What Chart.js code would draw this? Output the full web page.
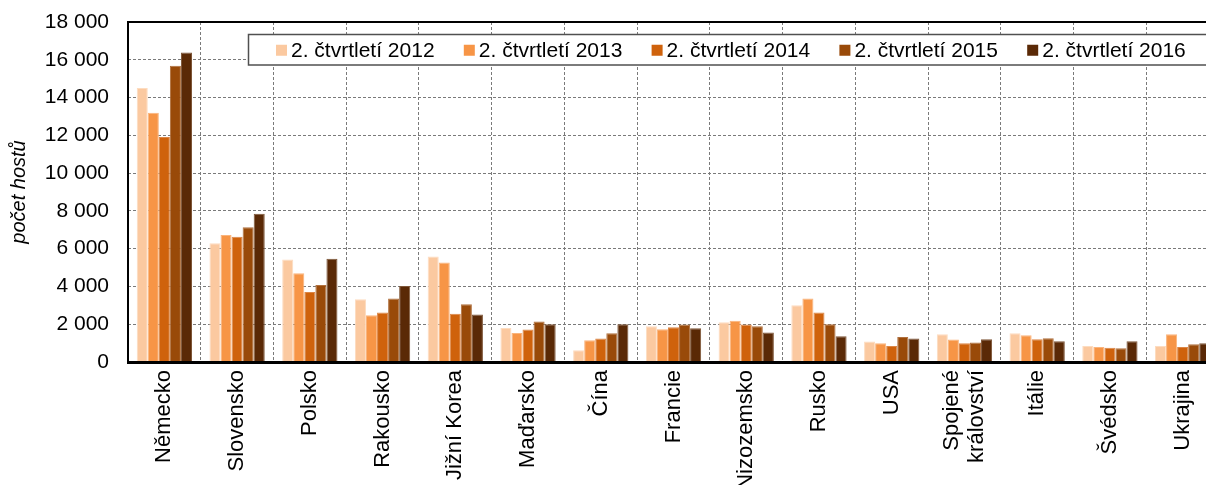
<!DOCTYPE html>
<html><head><meta charset="utf-8">
<script src="https://cdn.jsdelivr.net/npm/chart.js@4/dist/chart.umd.min.js"></script>
<style>html,body{margin:0;padding:0;overflow:hidden;background:#fff}
#wrap{position:relative;width:1220px;height:485px}</style></head>
<body><div id="wrap"><canvas id="c" width="1220" height="485"></canvas></div>
<script>
const categories = ['Německo','Slovensko','Polsko','Rakousko','Jižní Korea','Maďarsko','Čína','Francie','Nizozemsko','Rusko','USA',['Spojené','království'],'Itálie','Švédsko','Ukrajina'];
const seriesLabels = ['2. čtvrtletí 2012','2. čtvrtletí 2013','2. čtvrtletí 2014','2. čtvrtletí 2015','2. čtvrtletí 2016'];
const q2_2012 = [14500,6290,5430,3320,5590,1800,620,1890,2100,3010,1080,1470,1520,850,850];
const q2_2013 = [13200,6730,4700,2480,5270,1540,1150,1730,2190,3360,990,1190,1420,800,1470];
const q2_2014 = [11910,6630,3710,2620,2550,1720,1240,1840,1980,2620,850,990,1200,760,800];
const q2_2015 = [15690,7130,4070,3360,3060,2140,1520,1980,1890,2000,1330,1030,1260,730,940];
const q2_2016 = [16380,7850,5460,4030,2510,2000,2000,1790,1560,1360,1240,1200,1100,1100,990];
const yTicks = [0,2000,4000,6000,8000,10000,12000,14000,16000,18000];
const yTitle = 'počet hostů';

const fills = ['#FBC9A0','#F79546','#CF620C','#994A09','#5A2906'];
const edges = ['#FDDCC0','#FAB47C','#DC8646','#B0703E','#7E5638'];
const FONT = '"Liberation Sans", Arial, sans-serif';

const seriesValues = [q2_2012,q2_2013,q2_2014,q2_2015,q2_2016];
const datasets = seriesValues.map((vals,i)=>({
  label: seriesLabels[i],
  data: vals,
  backgroundColor: fills[i],
  borderColor: edges[i],
  borderWidth: 1,
  borderSkipped: 'bottom',
  categoryPercentage: 0.76,
  barPercentage: 1.0
}));

// center multi-line rotated category labels on their tick
const centerLabelsPlugin = {
  id: 'centerMultiline',
  beforeDraw(chart){
    const s = chart.scales.x;
    const items = s.getLabelItems(chart.chartArea);
    items.forEach(it=>{
      if (Array.isArray(it.label) && it.label.length > 1 && !it._centered) {
        it.options.translation[0] -= it.font.lineHeight * (it.label.length - 1) / 2;
        it._centered = true;
      }
    });
  }
};

const framePlugin = {
  id: 'frame',
  afterDatasetsDraw(chart){
    const {ctx, chartArea:a} = chart;
    ctx.save();
    ctx.strokeStyle = '#000';
    ctx.lineWidth = 2;
    ctx.beginPath();
    ctx.moveTo(a.left, a.bottom); ctx.lineTo(a.left, a.top); ctx.lineTo(a.right, a.top); ctx.lineTo(a.right, a.bottom);
    ctx.stroke();
    ctx.lineWidth = 3;
    ctx.beginPath();
    ctx.moveTo(a.left-1, a.bottom+0.5); ctx.lineTo(a.right, a.bottom+0.5);
    ctx.stroke();
    ctx.restore();
  }
};

const legendPlugin = {
  id: 'boxLegend',
  afterDraw(chart){
    const {ctx} = chart;
    const left = 248.5, top = 34.5, h = 30.5, right = 1212;
    ctx.save();
    ctx.fillStyle = '#fff';
    ctx.fillRect(left, top, right-left, h);
    ctx.strokeStyle = '#505050';
    ctx.lineWidth = 1.5;
    ctx.strokeRect(left, top, right-left, h);
    ctx.font = '21px ' + FONT;
    ctx.textBaseline = 'middle';
    ctx.textAlign = 'left';
    const cy = top + h/2 + 1;
    chart.data.datasets.forEach((ds,i)=>{
      const mx = 276 + i*187.8;
      ctx.fillStyle = ds.backgroundColor;
      ctx.fillRect(mx, cy-6, 11, 11);
      ctx.fillStyle = '#000';
      ctx.fillText(ds.label, mx+15, cy);
    });
    ctx.restore();
  }
};

new Chart(document.getElementById('c'), {
  type: 'bar',
  data: { labels: categories, datasets },
  options: {
    responsive: false,
    animation: false,
    layout: { padding: { top: 22, left: 0, right: 1, bottom: 0 } },
    plugins: { legend: { display: false }, tooltip: { enabled: false }, title: { display: false } },
    scales: {
      x: {
        grid: { color: '#7a7a7a', lineWidth: 1, drawTicks: false, offset: true },
        border: { display: false, dash: [3,2] },
        ticks: {
          autoSkip: false, minRotation: 90, maxRotation: 90, padding: 8,
          color: '#000', font: { family: FONT, size: 22, lineHeight: 1.15 }
        },
        afterFit(s){ s.height = 123; s.paddingLeft = 0; s.paddingRight = 0; }
      },
      y: {
        min: 0, max: 18000,
        afterBuildTicks(s){ s.ticks = yTicks.map(v=>({value:v})); },
        grid: { color: '#7a7a7a', lineWidth: 1, drawTicks: false },
        border: { display: false, dash: [3,2] },
        ticks: {
          padding: 19, color: '#000', font: { family: FONT, size: 21 },
          callback: v => String(v).replace(/\B(?=(\d{3})+(?!\d))/g, ' ')
        },
        title: { display: true, text: yTitle, color: '#000', padding: { top: 7, bottom: 0 },
          font: { family: FONT, size: 20, style: 'italic' } },
        afterFit(s){ s.width = 128; s.paddingTop = 0; s.paddingBottom = 0; }
      }
    }
  },
  plugins: [centerLabelsPlugin, framePlugin, legendPlugin]
});
</script></body></html>
